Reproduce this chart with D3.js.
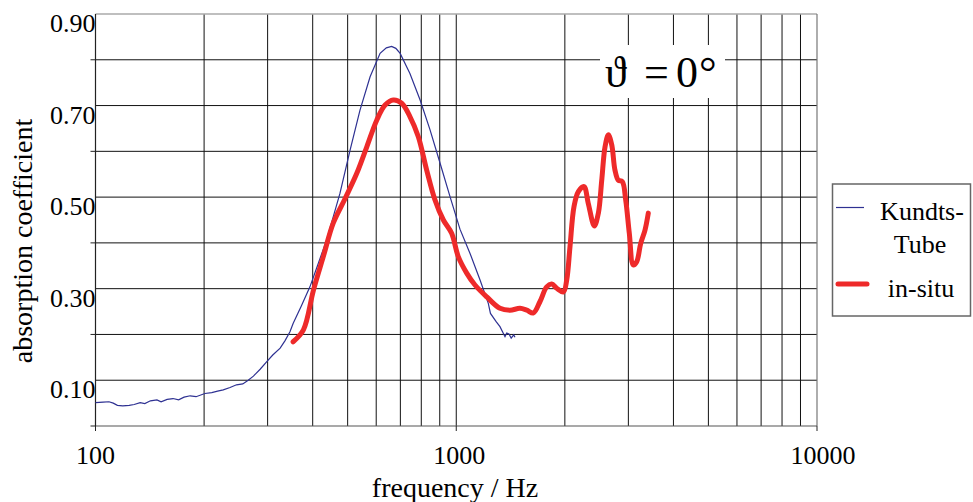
<!DOCTYPE html>
<html>
<head>
<meta charset="utf-8">
<script src="https://cdn.jsdelivr.net/npm/d3@7"></script>
<style>
  body { margin: 0; background: #fff; }
  svg { display: block; font-family: "Liberation Serif", "Times New Roman", serif; }
</style>
</head>
<body>
<div id="chart"></div>
<script>
//begin: data
var tubeFreq = [100, 105, 109, 112, 115, 119, 124, 128, 133, 137, 142, 148, 152, 158, 164, 170, 176, 183, 190,
  201, 210, 218, 226, 236, 246, 256, 265, 274, 286, 298, 310, 325, 335, 346, 353, 372, 393, 414, 437, 456,
  476, 508, 541, 577, 615, 640, 662, 680, 699, 744, 794, 846, 902, 961, 1024, 1092, 1164, 1227, 1244,
  1290, 1322, 1365, 1380, 1400, 1420, 1443, 1455];
var tubeAlpha = [0.051, 0.052, 0.053, 0.050, 0.045, 0.044, 0.045, 0.047, 0.051, 0.049, 0.055, 0.057, 0.053,
  0.058, 0.060, 0.057, 0.063, 0.066, 0.064, 0.071, 0.073, 0.076, 0.079, 0.084, 0.090, 0.092, 0.100, 0.109,
  0.124, 0.140, 0.155, 0.170, 0.186, 0.206, 0.224, 0.262, 0.304, 0.354, 0.406, 0.457, 0.508, 0.603, 0.690,
  0.763, 0.814, 0.826, 0.829, 0.825, 0.814, 0.770, 0.712, 0.647, 0.574, 0.501, 0.430, 0.377, 0.319, 0.268,
  0.246, 0.228, 0.217, 0.195, 0.203, 0.201, 0.192, 0.199, 0.194];

var situFreq = [353, 377, 402, 428, 456, 492, 530, 565, 602, 635, 669, 706, 744, 785, 828, 873, 921, 971,
  1013, 1069, 1127, 1215, 1322, 1409, 1502, 1568, 1636, 1707, 1781, 1839, 1899, 1981, 2024, 2067, 2120,
  2180, 2260, 2323, 2414, 2477, 2531, 2585, 2640, 2698, 2754, 2813, 2886, 2949, 3018, 3096, 3164, 3246,
  3336, 3407];
var situAlpha = [0.184, 0.210, 0.297, 0.370, 0.443, 0.497, 0.552, 0.610, 0.668, 0.701, 0.712, 0.705, 0.676,
  0.632, 0.559, 0.494, 0.450, 0.421, 0.370, 0.334, 0.308, 0.282, 0.257, 0.253, 0.257, 0.253, 0.247, 0.272,
  0.304, 0.310, 0.301, 0.293, 0.319, 0.392, 0.479, 0.512, 0.523, 0.486, 0.437, 0.465, 0.537, 0.610, 0.636,
  0.614, 0.559, 0.537, 0.534, 0.494, 0.421, 0.352, 0.359, 0.399, 0.428, 0.465];

var yLabelValues = [0.1, 0.3, 0.5, 0.7, 0.9];
var yTickValues = [0, 0.2, 0.4, 0.6, 0.8];
var xLabelValues = [100, 1000, 10000];
var seriesNames = ["Kundts-Tube", "in-situ"];
//end: data

var svgWidth = 973, svgHeight = 502;
var margin = { top: 14, left: 95.5 },
  width = 721.5,
  height = 412;

var x = d3.scaleLog().domain([100, 10000]).range([0, width]);
var y = d3.scaleLinear().domain([0, 0.9]).range([height, 0]);

var svg = d3.select("#chart").append("svg")
  .attr("width", svgWidth)
  .attr("height", svgHeight);

var plot = svg.append("g")
  .attr("transform", "translate(" + [margin.left, margin.top] + ")");

// grid: decades of log ticks and every 0.1
var xGrid = x.ticks().filter(function (d) { return d > 100 && d < 10000; });
plot.append("g").selectAll("line")
  .data(xGrid).enter().append("line")
  .attr("x1", function (d) { return x(d); })
  .attr("x2", function (d) { return x(d); })
  .attr("y1", 0).attr("y2", height)
  .attr("stroke", "#111").attr("stroke-width", 1);

var yGrid = d3.range(1, 9).map(function (i) { return i / 10; });
plot.append("g").selectAll("line")
  .data(yGrid).enter().append("line")
  .attr("x1", 0).attr("x2", width)
  .attr("y1", function (d) { return y(d); })
  .attr("y2", function (d) { return y(d); })
  .attr("stroke", "#111").attr("stroke-width", 1);

// frame
plot.append("line").attr("x1", 0).attr("x2", width).attr("y1", 0).attr("y2", 0)
  .attr("stroke", "#aaa").attr("stroke-width", 1.5);
plot.append("line").attr("x1", width).attr("x2", width).attr("y1", 0).attr("y2", height)
  .attr("stroke", "#777").attr("stroke-width", 1.2);
plot.append("line").attr("x1", 0).attr("x2", width).attr("y1", height).attr("y2", height)
  .attr("stroke", "#555").attr("stroke-width", 1.2);
plot.append("line").attr("x1", 0).attr("x2", 0).attr("y1", 0).attr("y2", height)
  .attr("stroke", "#222").attr("stroke-width", 1.2);

// tick marks
plot.append("g").selectAll("line")
  .data(yTickValues).enter().append("line")
  .attr("x1", -5).attr("x2", 0)
  .attr("y1", function (d) { return y(d); })
  .attr("y2", function (d) { return y(d); })
  .attr("stroke", "#222");
plot.append("g").selectAll("line")
  .data(xLabelValues).enter().append("line")
  .attr("x1", function (d) { return x(d); })
  .attr("x2", function (d) { return x(d); })
  .attr("y1", height).attr("y2", height + 5)
  .attr("stroke", "#222");

// tick labels
plot.append("g").selectAll("text")
  .data(yLabelValues).enter().append("text")
  .attr("x", 0)
  .attr("y", function (d) { return y(d) + 18; })
  .attr("text-anchor", "end")
  .style("font-size", "26px")
  .text(function (d) { return d.toFixed(2); });

plot.append("g").selectAll("text")
  .data(xLabelValues).enter().append("text")
  .attr("x", function (d, i) { return x(d) + i * 3; })
  .attr("y", height + 38)
  .attr("text-anchor", "middle")
  .style("font-size", "26px")
  .text(function (d) { return d; });

// axis titles
svg.append("text")
  .attr("x", 455).attr("y", 497)
  .attr("text-anchor", "middle")
  .style("font-size", "28px")
  .text("frequency / Hz");

svg.append("text")
  .attr("transform", "translate(32,241) rotate(-90)")
  .attr("text-anchor", "middle")
  .style("font-size", "28px")
  .text("absorption coefficient");

// curves
var tubeData = tubeFreq.map(function (f, i) { return [f, tubeAlpha[i]]; });
var situData = situFreq.map(function (f, i) { return [f, situAlpha[i]]; });

var lineTube = d3.line()
  .x(function (d) { return x(d[0]); })
  .y(function (d) { return y(d[1]); });
var lineSitu = d3.line()
  .curve(d3.curveCatmullRom.alpha(0.5))
  .x(function (d) { return x(d[0]); })
  .y(function (d) { return y(d[1]); });

plot.append("path")
  .attr("d", lineTube(tubeData))
  .attr("fill", "none")
  .attr("stroke", "#2e3192")
  .attr("stroke-width", 1.2);

plot.append("path")
  .attr("d", lineSitu(situData))
  .attr("fill", "none")
  .attr("stroke", "#ee2a2a")
  .attr("stroke-width", 5)
  .attr("stroke-linecap", "round")
  .attr("stroke-linejoin", "round");

// title box
svg.append("rect")
  .attr("x", 600).attr("y", 45).attr("width", 125).attr("height", 53)
  .attr("fill", "#fff");
var title = svg.append("text")
  .attr("y", 87)
  .style("font-size", "44px");
title.append("tspan").attr("x", 605).text("\u03D1");
title.append("tspan").attr("x", 644).text("=");
title.append("tspan").attr("x", 676).text("0");
title.append("tspan").attr("x", 699).text("\u00B0");

// legend
var legend = svg.append("g").classed("legend", true);
legend.append("rect")
  .attr("x", 832.5).attr("y", 184).attr("width", 138).attr("height", 132)
  .attr("fill", "#fff").attr("stroke", "#666").attr("stroke-width", 1.5);
legend.append("line")
  .attr("x1", 836).attr("x2", 864).attr("y1", 207.5).attr("y2", 207.5)
  .attr("stroke", "#2e3192").attr("stroke-width", 1.2);
legend.append("line")
  .attr("x1", 838).attr("x2", 867).attr("y1", 284).attr("y2", 284)
  .attr("stroke", "#ee2a2a").attr("stroke-width", 5).attr("stroke-linecap", "round");
legend.append("text").attr("x", 922).attr("y", 220).attr("text-anchor", "middle")
  .style("font-size", "26px").text("Kundts-");
legend.append("text").attr("x", 920).attr("y", 253).attr("text-anchor", "middle")
  .style("font-size", "26px").text("Tube");
legend.append("text").attr("x", 921).attr("y", 297).attr("text-anchor", "middle")
  .style("font-size", "26px").text(seriesNames[1]);
</script>
</body>
</html>
